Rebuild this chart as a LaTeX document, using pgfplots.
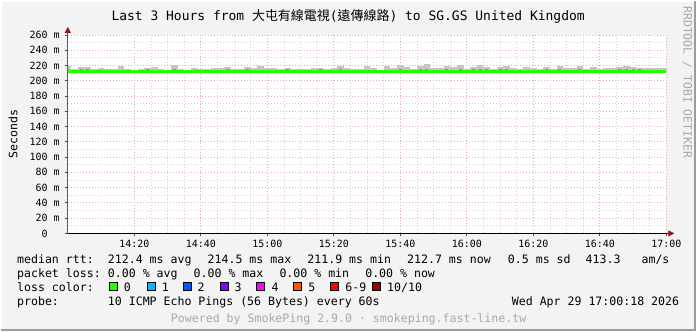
\documentclass[border=0pt]{standalone}
\usepackage{pgfplots}
\usepackage{pgfplotstable}
\pgfplotsset{compat=1.18}
\usepackage{fontspec}
\setmainfont{DejaVu Sans Mono}
\newfontfamily\cjk{Noto Sans CJK TC}
\usetikzlibrary{arrows.meta}
\definecolor{bg}{HTML}{F3F3F3}
\definecolor{bordergray}{HTML}{9C9C9C}
\definecolor{arrowred}{HTML}{A01010}
\definecolor{gridred}{HTML}{E4B0B0}
\definecolor{gridgray}{HTML}{D4D4D4}
\definecolor{smokelight}{HTML}{C4C4C4}
\definecolor{smokedark}{HTML}{8C8C8C}
\definecolor{medgreen}{HTML}{26FF00}
\definecolor{lc1}{HTML}{00B8FF}
\definecolor{lc2}{HTML}{0059FF}
\definecolor{lc3}{HTML}{7E00FF}
\definecolor{lc4}{HTML}{FF00FF}
\definecolor{lc5}{HTML}{FF5500}
\definecolor{lc6}{HTML}{FF0000}
\definecolor{lc10}{HTML}{A10000}
\definecolor{faint}{HTML}{A8A8A8}

\pgfplotstableread{
x med lo hi mid
0 212.6 212.0 219.5 215.0
2 212.4 211.9 216.0 214.0
4 212.5 212.0 217.5 215.5
6 212.3 211.8 218.5 216.0
8 212.4 211.9 215.5 214.0
10 212.0 211.7 217.0 214.5
12 212.2 211.8 216.0 214.0
14 211.9 211.6 215.0 213.5
16 212.5 212.0 219.5 214.5
18 212.4 212.0 215.0 213.5
20 212.3 211.8 214.5 213.5
22 212.0 211.7 215.0 213.5
24 212.3 211.8 217.0 215.0
26 212.5 212.0 218.0 214.5
28 212.0 211.7 215.0 213.5
30 212.1 211.8 214.5 213.0
32 212.5 212.0 220.0 215.0
34 212.3 211.9 216.0 214.0
36 211.9 211.6 214.5 213.0
38 212.4 211.9 216.5 214.0
40 212.6 212.1 215.5 214.0
42 212.2 211.8 215.0 213.5
44 212.0 211.7 217.0 214.0
46 212.4 212.0 216.5 214.5
48 212.6 212.1 218.0 215.0
50 212.3 211.8 216.0 214.0
52 212.1 211.8 215.5 213.5
54 212.4 212.0 217.5 215.0
56 212.5 212.0 216.5 214.0
58 212.0 211.7 219.5 214.5
60 212.3 211.8 216.5 214.0
62 212.5 212.0 217.0 214.5
64 212.2 211.9 216.0 214.0
66 212.4 212.0 216.5 215.5
68 212.0 211.7 215.0 213.5
70 212.3 211.8 216.0 214.0
72 211.9 211.6 215.5 213.5
74 212.4 212.0 216.5 214.0
76 212.6 212.1 217.0 215.0
78 212.0 211.7 215.5 213.5
80 212.3 211.9 216.5 214.0
82 212.5 212.0 219.5 215.0
84 212.4 211.9 217.0 214.5
86 212.1 211.8 215.5 213.5
88 212.4 212.0 216.0 214.0
90 212.2 211.8 219.0 214.5
92 212.5 212.0 216.5 214.0
94 212.0 211.7 214.5 213.0
96 212.4 211.9 219.0 214.5
98 212.3 211.9 217.0 214.5
100 212.5 212.0 221.0 215.5
102 212.2 211.8 217.5 214.0
104 212.0 211.6 215.0 213.5
106 212.4 212.0 219.0 215.0
108 212.5 212.0 221.5 215.5
110 212.3 211.8 217.0 214.5
112 212.1 211.7 216.5 214.0
114 212.4 212.0 219.5 215.0
116 212.3 211.9 217.5 214.5
118 212.5 212.0 221.0 215.5
120 212.2 211.8 216.0 214.0
122 212.4 212.0 218.0 215.0
124 212.6 212.1 220.5 216.0
126 212.3 211.9 217.5 215.0
128 212.1 211.7 216.0 214.0
130 212.4 212.0 218.0 215.0
132 212.5 212.0 219.0 215.5
134 212.2 211.8 216.5 214.0
136 212.0 211.7 215.5 213.5
138 212.3 211.9 218.0 214.5
140 212.5 212.0 217.0 214.5
142 212.1 211.8 215.5 213.5
144 212.4 212.0 218.5 215.0
146 212.2 211.8 216.0 214.0
148 212.6 212.1 219.0 215.5
150 212.3 211.9 217.0 214.5
152 212.0 211.7 216.5 214.0
154 212.4 212.0 219.0 215.0
156 212.2 211.8 216.0 214.0
158 212.5 212.0 217.5 214.5
160 212.1 211.7 215.5 213.5
162 212.4 212.0 217.0 214.5
164 212.2 211.8 216.5 214.0
166 212.6 212.0 218.0 215.0
168 212.3 211.9 219.5 215.5
170 212.5 212.1 217.5 215.0
172 212.7 212.2 217.0 215.0
174 212.7 212.2 216.5 214.5
176 212.7 212.2 216.5 214.5
178 212.7 212.2 216.5 214.5
180 212.7 212.2 216.5 214.5
}\smokedata

\begin{document}
\begin{tikzpicture}[x=1pt,y=1pt]
\fill[bg] (0,0) rectangle (697,331);
\draw[white, line width=1.5pt] (0.75,0) -- (0.75,330.25) -- (697,330.25);
\draw[bordergray, line width=2pt] (0,1) -- (696,1) -- (696,331);
\useasboundingbox (0,0) rectangle (697,331);
\fill[white] (67,98) rectangle (667,297);
\begin{axis}[
  at={(67pt,98pt)}, anchor=south west,
  scale only axis, width=600pt, height=199pt,
  xmin=0, xmax=180, ymin=0, ymax=260,
  axis x line=bottom, axis y line=left,
  x axis line style={black, line width=1pt, -{Triangle[length=6pt, width=6pt, color=arrowred]}, shorten >=-8pt},
  y axis line style={black!65, line width=1pt, -{Triangle[length=6pt, width=6pt, color=arrowred]}, shorten >=-8pt},
  xtick={20,40,...,180},
  xticklabels={14:20,14:40,15:00,15:20,15:40,16:00,16:20,16:40,17:00},
  ytick={0,20,...,260},
  yticklabels={0\phantom{mm},20 m,40 m,60 m,80 m,100 m,120 m,140 m,160 m,180 m,200 m,220 m,240 m,260 m},
  minor x tick num=3, minor y tick num=1,
  grid=both,
  major grid style={gridred, line width=0.8pt, dash pattern=on 1pt off 2pt},
  minor grid style={gridgray, line width=0.8pt, dash pattern=on 1pt off 2pt},
  tick align=outside, major tick length=3pt, minor tick length=0pt,
  tick style={black!70, line width=0.8pt},
  ticklabel style={font=\fontsize{10}{12}\selectfont, text=black},
  yticklabel style={inner sep=0pt, anchor=east, xshift=-5pt},
  xticklabel style={inner sep=0pt, anchor=north, yshift=-4pt},
]
\addplot[forget plot, draw=none, no markers, error bars/.cd, y dir=plus, y explicit, error mark=none,
  error bar style={line width=6.67pt, draw=smokelight}]
  table[x=x, y=lo, y error expr=\thisrow{hi}-\thisrow{lo}] {\smokedata};
\addplot[forget plot, draw=none, no markers, error bars/.cd, y dir=plus, y explicit, error mark=none,
  error bar style={line width=3pt, draw=smokedark}]
  table[x=x, y=lo, y error expr=\thisrow{mid}-\thisrow{lo}] {\smokedata};
\addplot[const plot mark mid, no markers, medgreen, line width=3pt] table[x=x, y=med] {\smokedata};
\end{axis}

% title
\node[anchor=base, inner sep=0pt, font=\fontsize{13}{15}\selectfont] at (348,311)
  {Last 3 Hours from {\cjk 大屯有線電視}({\cjk 遠傳線路}) to SG.GS United Kingdom};
% y label
\node[rotate=90, inner sep=0pt, font=\fontsize{11.6}{13}\selectfont] at (12,198) {Seconds};
% rrdtool
\node[rotate=-90, inner sep=0pt, text=faint, font=\fontsize{11.5}{13}\selectfont] at (688,249.5) {RRDTOOL / TOBI OETIKER};

\begin{scope}[every node/.style={anchor=base west, inner sep=0pt, font=\fontsize{11.6}{13}\selectfont}]
\node at (16,68) {median rtt:};
\node at (107,68) {212.4 ms avg};
\node at (207,68) {214.5 ms max};
\node at (307,68) {211.9 ms min};
\node at (407,68) {212.7 ms now};
\node at (508,68) {0.5 ms sd};
\node at (586,68) {413.3};
\node at (642,68) {am/s};
\node at (16,54) {packet loss:};
\node at (107,54) {0.00 \% avg};
\node at (193,54) {0.00 \% max};
\node at (279,54) {0.00 \% min};
\node at (365,54) {0.00 \% now};
\node at (16,40) {loss color:};
\node at (16,26) {probe:};
\node at (107,26) {10 ICMP Echo Pings (56 Bytes) every 60s};
\node[anchor=base east] at (680,26) {Wed Apr 29 17:00:18 2026};
\node at (123,40) {0};
\node at (161,40) {1};
\node at (197,40) {2};
\node at (234,40) {3};
\node at (271,40) {4};
\node at (308,40) {5};
\node at (345,40) {6-9};
\node at (387,40) {10/10};
\node[anchor=base, text=faint] at (348.5,9) {Powered by SmokePing 2.9.0 · smokeping.fast-line.tw};
\end{scope}
\begin{scope}[line width=0.8pt]
\filldraw[fill=medgreen, draw=black] (108.5,40.5) rectangle (116.5,48.5);
\filldraw[fill=lc1, draw=black] (146.5,40.5) rectangle (154.5,48.5);
\filldraw[fill=lc2, draw=black] (182.5,40.5) rectangle (190.5,48.5);
\filldraw[fill=lc3, draw=black] (219.5,40.5) rectangle (227.5,48.5);
\filldraw[fill=lc4, draw=black] (256.5,40.5) rectangle (264.5,48.5);
\filldraw[fill=lc5, draw=black] (293.5,40.5) rectangle (301.5,48.5);
\filldraw[fill=lc6, draw=black] (330.5,40.5) rectangle (338.5,48.5);
\filldraw[fill=lc10, draw=black] (372.5,40.5) rectangle (380.5,48.5);
\end{scope}
\end{tikzpicture}
\end{document}
